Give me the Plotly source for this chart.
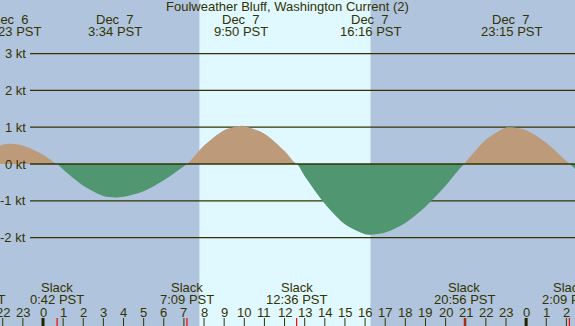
import plotly.graph_objects as go

# ---- data (hours since Dec 7 00:00 PST, knots) ----
curve_hours = [-2.14, -2, -1.617, -1, 0, 0.70, 1, 2, 3, 3.567, 4, 5, 6, 7, 7.15,
               8, 9, 9.833, 10, 11, 12, 12.60, 13, 14, 15, 16, 16.267, 17, 18, 19,
               20, 20.933, 21, 22, 23, 23.25, 24, 25, 26, 26.15, 26.43]
curve_knots = [0.50, 0.53, 0.55, 0.50, 0.25, 0.0, -0.15, -0.59, -0.87, -0.91, -0.89,
               -0.74, -0.44, -0.06, 0.0, 0.50, 0.92, 1.04, 1.035, 0.82, 0.35, 0.0,
               -0.33, -1.08, -1.64, -1.91, -1.92, -1.86, -1.60, -1.16, -0.59, 0.0,
               0.05, 0.66, 0.99, 1.0, 0.92, 0.58, 0.08, 0.0, -0.14]

slack_hours = [-3.42, 0.70, 7.15, 12.60, 20.933, 26.15]
slack_times = ["20:35 PST", "0:42 PST", "7:09 PST", "12:36 PST", "20:56 PST", "2:09 PST"]

extreme_hours = [-1.617, 3.567, 9.833, 16.267, 23.25]
extreme_dates = ["Dec\u00a0\u00a06", "Dec\u00a0\u00a07", "Dec\u00a0\u00a07", "Dec\u00a0\u00a07", "Dec\u00a0\u00a07"]
extreme_times = ["22:23 PST", "3:34 PST", "9:50 PST", "16:16 PST", "23:15 PST"]

hour_ticks = list(range(-2, 27))
hour_labels = [str(h % 24) for h in hour_ticks]
midnights = [0, 24]

kt_levels = [3, 2, 1, 0, -1, -2]
kt_labels = [f"{v} kt" for v in kt_levels]

sunrise, sunset = 7.77, 16.27
title = "Foulweather Bluff, Washington Current (2)"

# ---- styles ----
W, H = 575, 326
NIGHT = "#b0c4de"
DAY = "#e0f8ff"
FLOOD = "#bc9a7a"
EBB = "#509670"
INK = "#333300"
FONT = dict(family="Liberation Sans, Arial, sans-serif", size=13, color=INK)
XR = [-43 / 20.13, (W - 43) / 20.13]
YR = [-(H - 164) / 36.8, 164 / 36.8]

def py(p):
    return 1 - p / H

fig = go.Figure()
fig.add_trace(go.Scatter(x=curve_hours, y=[max(v, 0) for v in curve_knots], mode="lines",
                         line=dict(width=0, shape="spline", smoothing=0.8, color=FLOOD),
                         fill="tozeroy", fillcolor=FLOOD, hoverinfo="skip"))
fig.add_trace(go.Scatter(x=curve_hours, y=[min(v, 0) for v in curve_knots], mode="lines",
                         line=dict(width=0, shape="spline", smoothing=0.8, color=EBB),
                         fill="tozeroy", fillcolor=EBB, hoverinfo="skip"))

shapes = [dict(type="rect", xref="x", yref="paper", x0=sunrise, x1=sunset, y0=0, y1=1,
               fillcolor=DAY, line=dict(width=0), layer="below")]
for v in kt_levels:
    shapes.append(dict(type="line", xref="paper", yref="y", x0=30 / W, x1=1, y0=v, y1=v,
                       line=dict(color=INK, width=1.3), layer="above" if v == 0 else "below"))
for h in hour_ticks:
    shapes.append(dict(type="line", xref="x", yref="paper", x0=h, x1=h, y0=0, y1=8 / H,
                       line=dict(color=INK, width=1)))
for h in midnights:
    shapes.append(dict(type="line", xref="x", yref="paper", x0=h, x1=h, y0=0, y1=8 / H,
                       line=dict(color="#222200", width=3)))
for h in slack_hours:
    shapes.append(dict(type="line", xref="x", yref="paper", x0=h, x1=h, y0=0, y1=8 / H,
                       line=dict(color="#ff0000", width=1.2)))

ann = []
def text(h, y, s):
    # hour -> paper fraction along the x-axis range, so labels partly off-range still draw
    ann.append(dict(x=(h - XR[0]) / (XR[1] - XR[0]), y=y, xref="paper", yref="paper", text=s,
                    showarrow=False, xanchor="center", yanchor="middle", font=FONT))

ann.append(dict(x=0.5, y=py(7), xref="paper", yref="paper", text=title, showarrow=False,
                xanchor="center", yanchor="middle", font=FONT))
for h, d, t in zip(extreme_hours, extreme_dates, extreme_times):
    text(h, py(19.5), d)
    text(h, py(32), t)
for h, t in zip(slack_hours, slack_times):
    text(h, py(287.5), "Slack")
    text(h, py(299.5), t)
for h, l in zip(hour_ticks, hour_labels):
    text(h, py(312), l)
for v, l in zip(kt_levels, kt_labels):
    ann.append(dict(x=28 / W, y=v, xref="paper", yref="y", text=l, showarrow=False,
                    xanchor="right", yanchor="middle", font=FONT))

fig.update_layout(
    width=W, height=H, margin=dict(l=0, r=0, t=0, b=0),
    paper_bgcolor=NIGHT, plot_bgcolor=NIGHT, showlegend=False,
    xaxis=dict(range=XR, visible=False, fixedrange=True),
    yaxis=dict(range=YR, visible=False, fixedrange=True),
    shapes=shapes, annotations=ann,
)
fig.write_html("out.html", config={"displayModeBar": False},
               post_script="document.body.style.margin='0';document.body.style.overflow='hidden';")
